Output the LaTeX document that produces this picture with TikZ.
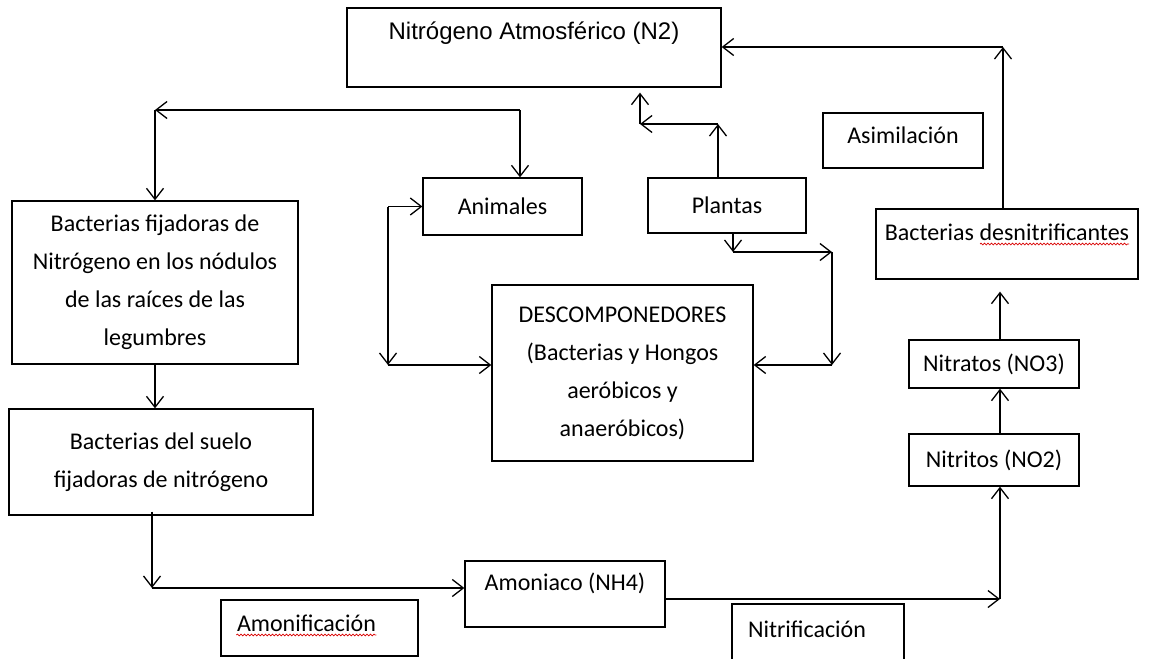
\documentclass[tikz,border=0pt]{standalone}
\usepackage{fontspec}
\setmainfont{Carlito}
\newfontfamily\arialfont{Liberation Sans}
\usetikzlibrary{arrows.meta, decorations.pathmorphing}

\begin{document}
\begin{tikzpicture}[
    x=1pt, y=-1pt,
    box/.style={rectangle, draw=black, line width=1.3pt, text centered, align=center, inner sep=0pt, font=\fontsize{24}{38}\selectfont},
    tagbox/.style={box, text height=17pt, text depth=11pt},
    arrow/.style={-{Straight Barb[length=11pt, width=17pt, line width=1.3pt]}, line width=1.3pt},
    squiggle/.style={red!85!black, line width=0.7pt, decorate, decoration={snake, amplitude=0.9pt, segment length=3.5pt}}
]
\useasboundingbox (0,0) rectangle (1168,659);

% Boxes
\node[box, minimum width=374pt, minimum height=79pt, text height=17pt, text depth=33pt, font=\arialfont\fontsize{24}{30}\selectfont] (n2) at (534,47.5) {Nitrógeno Atmosférico (N2)};
\node[tagbox, minimum width=160pt, minimum height=55pt] (asim) at (903,140.5) {Asimilación};
\node[box, minimum width=262pt, minimum height=70pt, text height=17pt, text depth=25pt] (desn) at (1007,244) {Bacterias desnitrificantes};
\node[box, minimum width=170pt, minimum height=48pt] (nitra) at (994,364) {Nitratos (NO3)};
\node[box, minimum width=170pt, minimum height=52pt] (nitri) at (994,460) {Nitritos (NO2)};
\node[box, minimum width=159pt, minimum height=57pt] (anim) at (502.5,206.5) {Animales};
\node[box, minimum width=158pt, minimum height=55pt] (plant) at (727,205.5) {Plantas};
\node[box, minimum width=261pt, minimum height=176pt] (desc) at (622.5,373) {DESCOMPONEDORES\\(Bacterias y Hongos\\aeróbicos y\\anaeróbicos)};
\node[box, minimum width=286pt, minimum height=163pt] (fij) at (155,282.5) {Bacterias fijadoras de\\Nitrógeno en los nódulos\\de las raíces de las\\legumbres};
\node[box, minimum width=304pt, minimum height=106pt] (suelo) at (161,462) {Bacterias del suelo\\fijadoras de nitrógeno};
\node[box, minimum width=200pt, minimum height=66pt, text height=17pt, text depth=25pt] (amon) at (565,594) {Amoniaco (NH4)};
\node[tagbox, text width=165pt, inner xsep=16pt, align=left, minimum height=56pt] (amonif) at (319.5,628) {Amonificación};
\node[tagbox, text width=140pt, inner xsep=16pt, align=left, minimum height=60pt] (nitrif) at (818,634) {Nitrificación};

% Spell-check marks
\draw[squiggle] ([xshift=-27pt, yshift=-4pt]desn.base) -- ([xshift=122pt, yshift=-4pt]desn.base);
\draw[squiggle] ([xshift=16pt, yshift=-4pt]amonif.base west) -- ([xshift=156pt, yshift=-4pt]amonif.base west);

% Bend points
\coordinate (tl) at (155,110);
\coordinate (tr) at (520,110);
\coordinate (al) at (388,206.5);
\coordinate (ad) at (388,365);
\coordinate (pu1) at (718,124);
\coordinate (pu2) at (640,124);
\coordinate (pd1) at (733,252);
\coordinate (pd2) at (832,252);
\coordinate (pd3) at (832,365);
\coordinate (sa) at (152,588);
\coordinate (an) at (1000,599);
\coordinate (dn) at (1003,47);

% Arrows
\draw[arrow] (tr) -- (tl);
\draw[arrow] (tl) -- (fij);
\draw[arrow] (tr) -- (tr |- anim.north);

\draw[arrow] (al) -- (anim.west);
\draw[arrow] (al) -- (ad);
\draw[arrow] (ad) -- (ad -| desc.west);

\draw[arrow] (pu1 |- plant.north) -- (pu1);
\draw[arrow] (pu1) -- (pu2);
\draw[arrow, shorten >=5pt] (pu2) -- (pu2 |- n2.south);

\draw[arrow] (pd1 |- plant.south) -- (pd1);
\draw[arrow] (pd1) -- (pd2);
\draw[arrow] (pd2) -- (pd3);
\draw[arrow] (pd3) -- (pd3 -| desc.east);

\draw[arrow] (fij.south) -- (fij.south |- suelo.north);
\draw[arrow] ([yshift=4pt]sa |- suelo.south) -- (sa);
\draw[arrow] (sa) -- (sa -| amon.west);

\draw[arrow] (an -| amon.east) -- (an);
\draw[arrow] (an) -- (an |- nitri.south);
\draw[arrow] (an |- nitri.north) -- (an |- nitra.south);
\draw[arrow, shorten >=12pt] (an |- nitra.north) -- (an |- desn.south);
\draw[arrow] (dn |- desn.north) -- (dn);
\draw[arrow] (dn) -- (dn -| n2.east);

\end{tikzpicture}
\end{document}
